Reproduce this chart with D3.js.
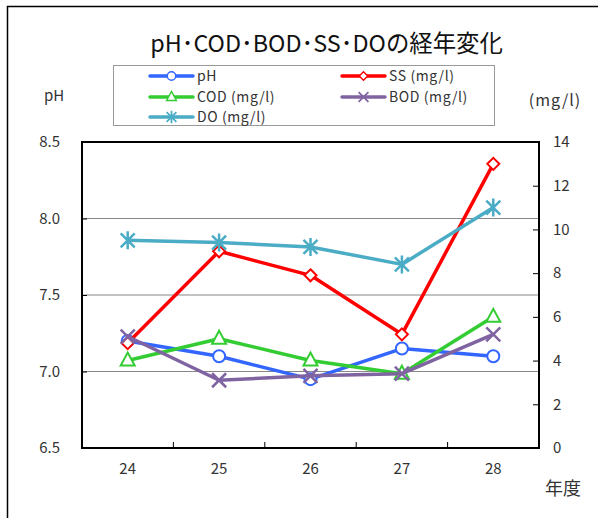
<!DOCTYPE html>
<html><head><meta charset="utf-8">
<script src="https://cdn.jsdelivr.net/npm/d3@7"></script>
<style>
body{margin:0;background:#fff;}
text{font-family:"Noto Sans CJK JP","Noto Sans",sans-serif;}
</style></head>
<body><svg id="c" width="598" height="518"></svg>
<script>
const years = ["24","25","26","27","28"];
const pH  = [7.20, 7.10, 6.95, 7.15, 7.10];
const SS  = [4.8, 9.0, 7.9, 5.2, 13.0];
const COD = [4.0, 5.0, 4.0, 3.4, 6.0];
const BOD = [5.1, 3.1, 3.3, 3.4, 5.2];
const DO  = [9.5, 9.4, 9.2, 8.4, 11.0];
const leftTicks = [6.5, 7.0, 7.5, 8.0, 8.5];
const rightTicks = [0, 2, 4, 6, 8, 10, 12, 14];

const series = [
  {name:"pH", vals:pH, axis:"L", color:"#3366ff", marker:"circle"},
  {name:"SS (mg/l)", vals:SS, axis:"R", color:"#ff0000", marker:"diamond"},
  {name:"COD (mg/l)", vals:COD, axis:"R", color:"#33cc33", marker:"triangle"},
  {name:"BOD (mg/l)", vals:BOD, axis:"R", color:"#8064a2", marker:"x"},
  {name:"DO (mg/l)", vals:DO, axis:"R", color:"#4bacc6", marker:"star"}
];

const svg = d3.select("#c");
const L = 82, R = 539, T = 142, B = 448;
const x = d3.scaleBand().domain(years).range([L, R]);
const yL = d3.scaleLinear().domain([6.5, 8.5]).range([B, T]);
const yR = d3.scaleLinear().domain([0, 14]).range([B, T]);
const tickFont = "'Liberation Sans',sans-serif";

// outer border
svg.append("path").attr("d", `M7.5,520 V6.5 H600`).attr("fill","none").attr("stroke","#000").attr("stroke-width",1.5);

// title
svg.append("text").attr("x", 326.5).attr("y", 52).attr("text-anchor","middle")
  .attr("font-size", 23.4).attr("fill","#111").text("pH･COD･BOD･SS･DOの経年変化");

// gridlines
svg.append("g").selectAll("line").data(leftTicks.filter(d => d>6.5 && d<8.5)).join("line")
  .attr("x1", L).attr("x2", R).attr("y1", d => yL(d)).attr("y2", d => yL(d))
  .attr("stroke","#888").attr("stroke-width",1.2);

// left axis
const gl = svg.append("g").attr("transform", `translate(${L},0)`)
  .call(d3.axisLeft(yL).tickValues(leftTicks).tickFormat(d3.format(".1f")).tickSizeInner(-5).tickSizeOuter(0).tickPadding(22));
gl.select(".domain").remove();
gl.selectAll("line").attr("stroke","#000");
gl.selectAll("text").attr("font-size", 15).attr("fill","#333").attr("font-family",tickFont);

// right axis
const gr = svg.append("g").attr("transform", `translate(${R},0)`)
  .call(d3.axisRight(yR).tickValues(rightTicks).tickSizeInner(-6).tickSizeOuter(0).tickPadding(14));
gr.select(".domain").remove();
gr.selectAll("line").attr("stroke","#000");
gr.selectAll("text").attr("font-size", 15).attr("fill","#333").attr("font-family",tickFont);

// bottom axis labels
const gb = svg.append("g").attr("transform", `translate(0,${B})`)
  .call(d3.axisBottom(x).tickSize(0).tickPadding(15));
gb.select(".domain").remove();
gb.selectAll("text").attr("font-size", 15).attr("fill","#333").attr("font-family",tickFont);
// category boundary ticks
svg.append("g").selectAll("line").data(years.slice(1)).join("line")
  .attr("x1", d => x(d)).attr("x2", d => x(d)).attr("y1", B).attr("y2", B-6)
  .attr("stroke","#000");

// frame
svg.append("rect").attr("x", L).attr("y", T).attr("width", R-L).attr("height", B-T)
  .attr("fill","none").attr("stroke","#000").attr("stroke-width",2);

// axis titles
svg.append("text").attr("x", 54).attr("y", 101).attr("text-anchor","middle").attr("font-size",15).attr("fill","#333")
  .attr("font-family",tickFont).text("pH");
svg.append("text").attr("x", 555).attr("y", 106).attr("text-anchor","middle").attr("font-size",16).attr("fill","#333")
  .attr("letter-spacing",1).text("(mg/l)");
svg.append("text").attr("x", 563).attr("y", 495).attr("text-anchor","middle").attr("font-size",18).attr("fill","#333").text("年度");

function drawMarker(g, type, color){
  if(type==="circle") g.append("circle").attr("r",6).attr("fill","#fff").attr("stroke",color).attr("stroke-width",2);
  else if(type==="diamond") g.append("path").attr("d","M0,-6L6,0L0,6L-6,0Z").attr("fill","#fff").attr("stroke",color).attr("stroke-width",2);
  else if(type==="triangle") g.append("path").attr("d","M0,-8L7,5L-7,5Z").attr("fill","#fff").attr("stroke",color).attr("stroke-width",2);
  else if(type==="x") g.append("path").attr("d","M-7,-7L7,7M7,-7L-7,7").attr("stroke",color).attr("stroke-width",2.5);
  else if(type==="star") g.append("path").attr("d","M-7,-7L7,7M7,-7L-7,7M0,-9V9").attr("stroke",color).attr("stroke-width",2.5);
}

// series
series.forEach(s => {
  const ys = s.axis==="L" ? yL : yR;
  const cx = d => x(d) + x.bandwidth()/2;
  const line = d3.line().x((d,i) => cx(years[i])).y(d => ys(d));
  svg.append("path").datum(s.vals).attr("d", line).attr("fill","none")
    .attr("stroke", s.color).attr("stroke-width",3.5).attr("stroke-linejoin","round");
  s.vals.forEach((v,i) => {
    const g = svg.append("g").attr("transform", `translate(${cx(years[i])},${ys(v)})`);
    drawMarker(g, s.marker, s.color);
  });
});

// legend
svg.append("rect").attr("x",113.5).attr("y",65.5).attr("width",381).attr("height",60)
  .attr("fill","#fff").attr("stroke","#999").attr("stroke-width",1);
const legPos = [[150,76],[342,76],[150,97],[342,97],[150,117]];
series.forEach((s,i) => {
  const [lx,ly] = legPos[i];
  svg.append("line").attr("x1",lx).attr("x2",lx+43).attr("y1",ly).attr("y2",ly)
    .attr("stroke",s.color).attr("stroke-width",3.5).attr("stroke-linecap","round");
  const g = svg.append("g").attr("transform",`translate(${lx+21.5},${ly}) scale(0.7)`);
  drawMarker(g, s.marker, s.color);
  svg.append("text").attr("x", lx+47).attr("y", ly+5).attr("font-size",14).attr("fill","#333")
    .attr("letter-spacing",0.6).text(s.name);
});
</script></body></html>
